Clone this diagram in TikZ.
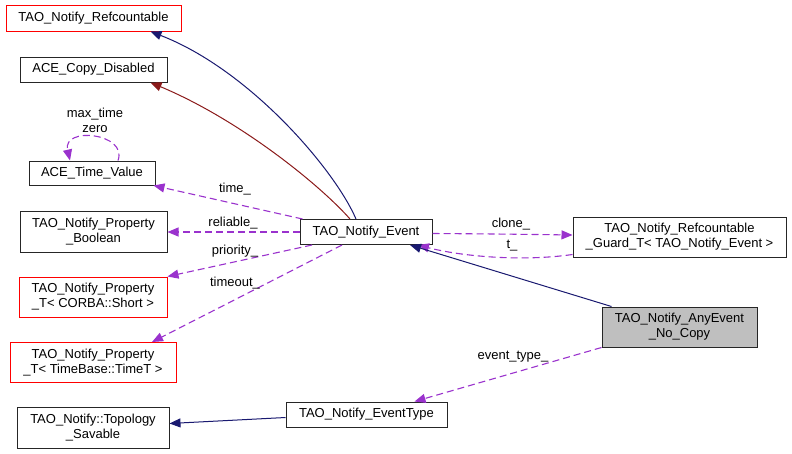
\documentclass[tikz,border=0pt]{standalone}
\usepackage{fontspec}
\setmainfont{Liberation Sans}
\usetikzlibrary{arrows.meta}
\definecolor{navy}{HTML}{191970}
\definecolor{dred}{HTML}{8B1A1A}
\definecolor{purp}{HTML}{9A32CD}
\definecolor{gfill}{HTML}{BFBFBF}
\tikzset{
  box/.style={draw=black!85, line width=1pt, inner sep=0pt, align=center,
    font=\fontsize{13}{15}\selectfont},
  redbox/.style={box, draw=red},
  lbl/.style={font=\fontsize{13}{15}\selectfont, inner sep=0pt, align=center},
  inh/.style={draw=navy, line width=1pt, -{Triangle[length=11pt,width=9pt,fill=navy]}},
  priv/.style={draw=dred, line width=1pt, -{Triangle[length=11pt,width=9pt,fill=dred]}},
  use/.style={draw=purp, line width=1.1pt, dash pattern=on 7pt off 4pt, -{Triangle[length=11pt,width=9pt,fill=purp]}},
}
\begin{document}
\begin{tikzpicture}[x=1pt,y=-1pt]
\useasboundingbox (0,0) rectangle (792,453);
% nodes
\node[redbox, minimum width=175pt, minimum height=26pt] (ref) at (93.5,18) {TAO\_Notify\_Refcountable};
\node[box, minimum width=147pt, minimum height=25pt] (acd) at (93.5,69.5) {ACE\_Copy\_Disabled};
\node[box, minimum width=126pt, minimum height=24pt] (atv) at (92,173) {ACE\_Time\_Value};
\node[box, minimum width=147pt, minimum height=41pt] (pb) at (93.5,232) {TAO\_Notify\_Property\\\_Boolean};
\node[redbox, minimum width=148pt, minimum height=40pt] (ps) at (93,297) {TAO\_Notify\_Property\\\_T\textless{} CORBA::Short \textgreater};
\node[redbox, minimum width=166pt, minimum height=40pt] (pt) at (93,362.5) {TAO\_Notify\_Property\\\_T\textless{} TimeBase::TimeT \textgreater};
\node[box, minimum width=152pt, minimum height=41pt] (ts) at (93,427.5) {TAO\_Notify::Topology\\\_Savable};
\node[box, minimum width=132pt, minimum height=25pt] (ev) at (366,232) {TAO\_Notify\_Event};
\node[box, minimum width=213pt, minimum height=40pt] (gd) at (679.5,237) {TAO\_Notify\_Refcountable\\\_Guard\_T\textless{} TAO\_Notify\_Event \textgreater};
\node[box, fill=gfill, minimum width=155pt, minimum height=40pt] (any) at (679.5,327) {TAO\_Notify\_AnyEvent\\\_No\_Copy};
\node[box, minimum width=161pt, minimum height=25pt] (et) at (366.5,414.5) {TAO\_Notify\_EventType};
% edges
\draw[inh] ([xshift=-10pt]ev.north) .. controls (335,170) and (250,70) .. ([xshift=57pt]ref.south);
\draw[priv] ([xshift=-16pt]ev.north) .. controls (320,185) and (240,120) .. ([xshift=57pt]acd.south);
\draw[use] ([xshift=3pt]ev.north west) -- ([xshift=-2pt]atv.south east);
\node[lbl] (l1) at (235,189) {time\_};
\draw[use] (ev.west) -- (pb.east);
\node[lbl] (l2) at (233,223) {reliable\_};
\draw[use] ([xshift=-54pt]ev.south) -- (ps.north east);
\node[lbl] (l3) at (235,251) {priority\_};
\draw[use] ([xshift=-24pt]ev.south) -- ([xshift=59pt]pt.north);
\node[lbl] (l4) at (235,283) {timeout\_};
\draw[use] ([yshift=-1.5pt]ev.east) .. controls (500,234) .. ([yshift=2pt]gd.west);
\node[lbl] (l5) at (511,224) {clone\_};
\draw[use] ([yshift=3pt]gd.south west) .. controls (520,262) and (460,256) .. ([xshift=52pt]ev.south);
\node[lbl] (l6) at (512,246) {t\_};
\draw[inh] ([xshift=10pt]any.north west) -- ([xshift=44pt]ev.south);
\draw[use] (any.south west) -- ([xshift=48pt]et.north);
\node[lbl] (l7) at (513,357) {event\_type\_};
\draw[inh] ([yshift=-3pt]et.west) -- ([yshift=4pt]ts.east);
\draw[use] ([xshift=26pt]atv.north) .. controls (128,133) and (62,126) .. ([xshift=-22pt]atv.north);
\node[lbl] (l8) at (95,120) {max\_time\\zero};
\end{tikzpicture}
\end{document}
